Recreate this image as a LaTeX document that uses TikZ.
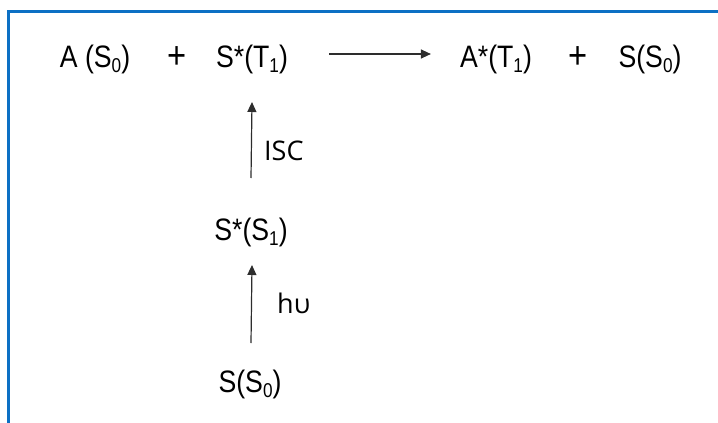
\documentclass[tikz,border=0pt]{standalone}
\usepackage{fontspec}
\usetikzlibrary{arrows.meta}
\newfontfamily\rxfont{Liberation Sans}[FakeStretch=0.86]
\newfontfamily\lblfont{Open Sans}
\definecolor{frameblue}{RGB}{12,112,196}
\definecolor{arrgray}{RGB}{45,45,45}
\newcommand\sbx[1]{\raisebox{-5pt}{\fontsize{20pt}{20pt}\selectfont #1}}
\tikzset{
  rx/.style={inner sep=0pt, anchor=base, font=\rxfont\fontsize{31pt}{33pt}\selectfont},
  plus/.style={inner sep=0pt, anchor=center, font=\rxfont\fontsize{38pt}{40pt}\selectfont},
  lbl/.style={inner sep=0pt, anchor=base west, font=\lblfont\fontsize{27pt}{30pt}\selectfont},
  arr/.style={draw=arrgray, line width=1.2pt, -{Triangle[length=10pt,width=9pt]}},
  frame/.style={draw=frameblue, line width=3pt}
}
\begin{document}
\begin{tikzpicture}[x=1pt,y=-1pt]
\useasboundingbox (0,0) rectangle (718,423);
\draw[frame] (8.5,424) -- (8.5,11) -- (719,11);
% top row
\node[rx] (aS0) at (95,67) {A (S\sbx{0})};
\node[plus] (p1) at (177,58) {+};
\node[rx] (sT1) at (252,67) {S*(T\sbx{1})};
\node[rx] (aT1) at (496,67) {A*(T\sbx{1})};
\node[plus] (p2) at (578,58) {+};
\node[rx] (sS0b) at (650,67) {S(S\sbx{0})};
% column
\node[rx] (sS1) at (251,240) {S*(S\sbx{1})};
\node[rx] (sS0) at (250,392) {S(S\sbx{0})};
\node[lbl] (isc) at (264,160) {ISC};
\node[lbl] (hv) at (277,313) {hυ};
% arrows
\draw[arr, shorten <=41pt, shorten >=29pt] ([yshift=13pt]sT1.base east) -- ([yshift=13pt]aT1.base west);
\draw[arr] ([yshift=62pt]sS1.base) -- ([yshift=-35pt]sT1.base);
\draw[arr] ([xshift=1pt,yshift=49pt]sS0.base) -- ([xshift=1pt,yshift=-25pt]sS1.base);
\end{tikzpicture}
\end{document}
